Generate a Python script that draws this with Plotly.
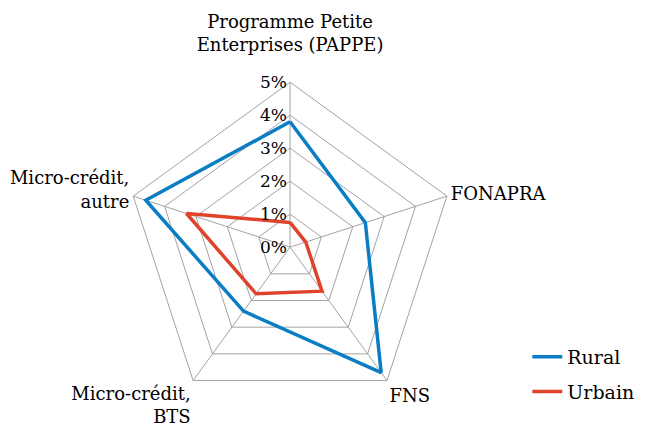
import plotly.graph_objects as go

categories = ["Programme Petite<br>Enterprises (PAPPE)<br> ", "FONAPRA", "FNS",
              "Micro-crédit,<br>BTS", "Micro-crédit,<br>autre"]
rural = [3.8, 2.4, 4.7, 2.4, 4.6]
urbain = [0.75, 0.5, 1.65, 1.75, 3.3]
radial_ticks = [0, 1, 2, 3, 4, 5]
radial_labels = ["0%", "1%", "2%", "3%", "4%", "5%"]

COLOR_RURAL = "#0B7DC4"
COLOR_URBAIN = "#E0432B"
COLOR_GRILLE = "#A3A3A3"
FONT = "DejaVu Serif"

fig = go.Figure()
for nom, valeurs, color in [("Rural", rural, COLOR_RURAL), ("Urbain", urbain, COLOR_URBAIN)]:
    fig.add_trace(go.Scatterpolar(
        r=valeurs + valeurs[:1], theta=categories + categories[:1],
        mode="lines", name=nom, legendgroup=nom,
        line=dict(color=color, width=3.5)))

fig.update_layout(
    width=659, height=434,
    paper_bgcolor="white", plot_bgcolor="white",
    margin=dict(l=0, r=0, t=0, b=0),
    font=dict(family=FONT, color="black", size=18),
    polar=dict(
        domain=dict(x=[0.1776, 0.6784], y=[0.069, 0.829]),
        bgcolor="white",
        gridshape="linear",
        angularaxis=dict(rotation=90, direction="clockwise",
                         showline=True, linecolor=COLOR_GRILLE, linewidth=1,
                         gridcolor=COLOR_GRILLE, gridwidth=1,
                         ticks="", tickfont=dict(family=FONT, size=18)),
        radialaxis=dict(range=[0, 5], tickvals=radial_ticks, ticktext=radial_labels,
                        angle=90, tickangle=90, side="counterclockwise",
                        showline=False, gridcolor=COLOR_GRILLE, gridwidth=1,
                        ticks="", tickfont=dict(family=FONT, size=17)),
    ),
    legend=dict(x=0.788, y=0.24, xanchor="left", yanchor="top",
                font=dict(family=FONT, size=19), bgcolor="rgba(0,0,0,0)",
                tracegroupgap=7),
)

fig.write_html("out.html")
